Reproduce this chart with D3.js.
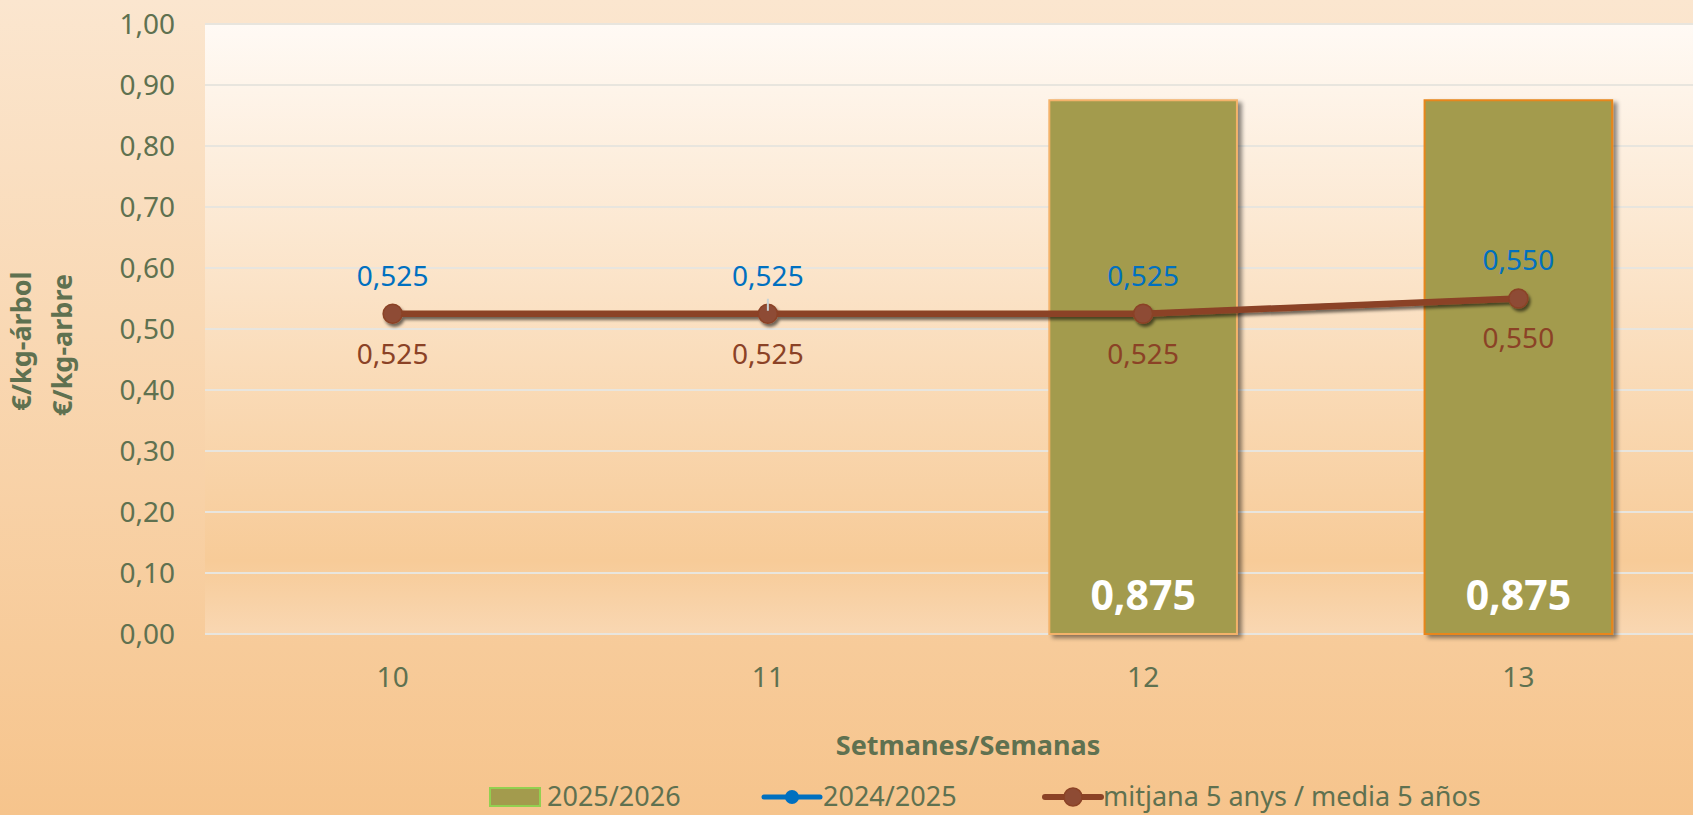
<!DOCTYPE html>
<html>
<head>
<meta charset="utf-8">
<script src="https://cdn.jsdelivr.net/npm/d3@7"></script>
<style>
  html, body { margin: 0; padding: 0; overflow: hidden; }
  text { font-family: "Noto Sans", "Open Sans", sans-serif; }
</style>
</head>
<body>
<div id="chart"></div>
<script>
// chart data
var weeks = ["10", "11", "12", "13"];
var season2526 = [null, null, 0.875, 0.875];
var season2425 = [0.525, 0.525, 0.525, 0.550];
var avg5 = [0.525, 0.525, 0.525, 0.550];
var yTicks = [0, 0.1, 0.2, 0.3, 0.4, 0.5, 0.6, 0.7, 0.8, 0.9, 1.0];
var legendNames = ["2025/2026", "2024/2025", "mitjana 5 anys / media 5 años"];
var barStrokes = ["#f4b26b", "#f4b26b", "#f4b26b", "#e8861a"];

var w = 1693, h = 815;
var plot = {left: 205, top: 24, right: 1706, bottom: 634};

var green = "#5f7150";
var barCol = "#a39b4d";
var blue = "#0070c0";
var brown = "#8b4226";

var fmt = function(v, d) { return v.toFixed(d).replace(".", ","); };

var svg = d3.select("#chart").append("svg")
  .attr("width", w)
  .attr("height", h);

var defs = svg.append("defs");

var bgGrad = defs.append("linearGradient").attr("id", "bg")
  .attr("x1", 0).attr("y1", 0).attr("x2", 0).attr("y2", 1);
bgGrad.append("stop").attr("offset", "0%").attr("stop-color", "#fbe6cf");
bgGrad.append("stop").attr("offset", "100%").attr("stop-color", "#f6c48c");

var plotGrad = defs.append("linearGradient").attr("id", "plotbg")
  .attr("x1", 0).attr("y1", 0).attr("x2", 0).attr("y2", 1);
plotGrad.append("stop").attr("offset", "0%").attr("stop-color", "#fffaf5");
plotGrad.append("stop").attr("offset", "88%").attr("stop-color", "#f7cb98");
plotGrad.append("stop").attr("offset", "100%").attr("stop-color", "#f9d7b2");

var barShadow = defs.append("filter").attr("id", "barshadow")
  .attr("x", "-10%").attr("y", "-10%").attr("width", "130%").attr("height", "130%");
barShadow.append("feDropShadow")
  .attr("dx", 4).attr("dy", 3).attr("stdDeviation", 2)
  .attr("flood-color", "#000").attr("flood-opacity", 0.45);

var lineShadow = defs.append("filter").attr("id", "lineshadow")
  .attr("x", "-5%").attr("y", "-50%").attr("width", "110%").attr("height", "200%");
lineShadow.append("feDropShadow")
  .attr("dx", 2).attr("dy", 3).attr("stdDeviation", 1.5)
  .attr("flood-color", "#000").attr("flood-opacity", 0.55);

svg.append("rect")
  .attr("width", w).attr("height", h)
  .attr("fill", "url(#bg)");

svg.append("rect")
  .attr("x", plot.left).attr("y", plot.top - 1)
  .attr("width", plot.right - plot.left)
  .attr("height", plot.bottom - plot.top + 1)
  .attr("fill", "url(#plotbg)");

var x = d3.scaleBand().domain(weeks).range([plot.left, plot.right]).padding(0);
var y = d3.scaleLinear().domain([0, 1]).range([plot.bottom, plot.top]);

// gridlines
svg.append("g").selectAll("line")
  .data(yTicks)
  .join("line")
    .attr("x1", plot.left).attr("x2", plot.right)
    .attr("y1", d => y(d)).attr("y2", d => y(d))
    .attr("stroke", "#e8e5de")
    .attr("stroke-width", 2);

// y axis
var yAxis = svg.append("g")
  .attr("transform", "translate(" + (plot.left - 30) + ",0)")
  .call(d3.axisLeft(y).tickValues(yTicks).tickSize(0).tickPadding(0)
    .tickFormat(d => fmt(d, 2)));
yAxis.select(".domain").remove();
yAxis.selectAll("text")
  .attr("fill", green)
  .style("font-size", "28px")
  .attr("dy", "0.35em");

// x axis
var xAxis = svg.append("g")
  .attr("transform", "translate(0," + plot.bottom + ")")
  .call(d3.axisBottom(x).tickSize(0).tickPadding(0));
xAxis.select(".domain").remove();
xAxis.selectAll("text")
  .attr("fill", green)
  .style("font-size", "28px")
  .attr("y", 43)
  .attr("dy", "0.35em");

// bars 2025/2026
var barW = x.bandwidth() * 0.5;
var bars = weeks.map((d, i) => ({week: d, v: season2526[i], stroke: barStrokes[i]}))
  .filter(d => d.v != null);

svg.append("g").selectAll("rect")
  .data(bars)
  .join("rect")
    .attr("x", d => x(d.week) + (x.bandwidth() - barW) / 2)
    .attr("y", d => y(d.v))
    .attr("width", barW)
    .attr("height", d => y(0) - y(d.v))
    .attr("fill", barCol)
    .attr("stroke", d => d.stroke)
    .attr("stroke-width", 2)
    .attr("filter", "url(#barshadow)");

svg.append("g").selectAll("text")
  .data(bars)
  .join("text")
    .attr("x", d => x(d.week) + x.bandwidth() / 2)
    .attr("y", y(0) - 24)
    .attr("text-anchor", "middle")
    .attr("fill", "#fff")
    .style("font-size", "41px")
    .style("font-weight", "bold")
    .text(d => fmt(d.v, 3));

var cx = d => x(d) + x.bandwidth() / 2;

// 2024/2025 line (sits under the average line)
var line2425 = d3.line().x((d, i) => cx(weeks[i])).y(d => y(d));
svg.append("path")
  .datum(season2425)
  .attr("d", line2425)
  .attr("fill", "none")
  .attr("stroke", blue)
  .attr("stroke-width", 5);
svg.append("g").selectAll("circle")
  .data(season2425)
  .join("circle")
    .attr("cx", (d, i) => cx(weeks[i]))
    .attr("cy", d => y(d))
    .attr("r", 7)
    .attr("fill", blue);

// 5 year average line
var lineAvg = d3.line().x((d, i) => cx(weeks[i])).y(d => y(d));
var avgG = svg.append("g").attr("filter", "url(#lineshadow)");
avgG.append("path")
  .datum(avg5)
  .attr("d", lineAvg)
  .attr("fill", "none")
  .attr("stroke", brown)
  .attr("stroke-width", 6.5);
avgG.selectAll("circle")
  .data(avg5)
  .join("circle")
    .attr("cx", (d, i) => cx(weeks[i]))
    .attr("cy", d => y(d))
    .attr("r", 9.5)
    .attr("fill", "#8e4b34")
    .attr("stroke", brown)
    .attr("stroke-width", 1.5);

// small mark left on week 11
svg.append("line")
  .attr("x1", cx("11")).attr("x2", cx("11"))
  .attr("y1", y(season2425[1]) - 15).attr("y2", y(season2425[1]) - 3)
  .attr("stroke", "#c9d3d6").attr("stroke-width", 2);

// data labels
svg.append("g").selectAll("text")
  .data(season2425)
  .join("text")
    .attr("x", (d, i) => cx(weeks[i]))
    .attr("y", d => y(d) - 38)
    .attr("dy", "0.35em")
    .attr("text-anchor", "middle")
    .attr("fill", blue)
    .style("font-size", "28px")
    .text(d => fmt(d, 3));

svg.append("g").selectAll("text")
  .data(avg5)
  .join("text")
    .attr("x", (d, i) => cx(weeks[i]))
    .attr("y", d => y(d) + 40)
    .attr("dy", "0.35em")
    .attr("text-anchor", "middle")
    .attr("fill", brown)
    .style("font-size", "28px")
    .text(d => fmt(d, 3));

// axis titles
var yTitle = svg.append("g")
  .attr("fill", green)
  .style("font-size", "27px")
  .style("font-weight", "bold");
yTitle.append("text")
  .attr("transform", "translate(31,341) rotate(-90)")
  .attr("text-anchor", "middle")
  .text("€/kg-árbol");
yTitle.append("text")
  .attr("transform", "translate(72,345) rotate(-90)")
  .attr("text-anchor", "middle")
  .text("€/kg-arbre");

svg.append("text")
  .attr("x", 968).attr("y", 746)
  .attr("dy", "0.35em")
  .attr("text-anchor", "middle")
  .attr("fill", green)
  .style("font-size", "27px")
  .style("font-weight", "bold")
  .text("Setmanes/Semanas");

// legend
var legend = svg.append("g").attr("transform", "translate(0,797)");
var lg0 = legend.append("g").attr("transform", "translate(489,0)");
lg0.append("rect")
  .attr("x", 1).attr("y", -9).attr("width", 50).attr("height", 18)
  .attr("fill", barCol).attr("stroke", "#92d050").attr("stroke-width", 2);
lg0.append("text").attr("x", 58).attr("dy", "0.33em").text(legendNames[0]);

var lg1 = legend.append("g").attr("transform", "translate(764,0)");
lg1.append("line").attr("x1", 0).attr("x2", 56)
  .attr("stroke", blue).attr("stroke-width", 5).attr("stroke-linecap", "round");
lg1.append("circle").attr("cx", 28).attr("r", 7).attr("fill", blue);
lg1.append("text").attr("x", 59).attr("dy", "0.33em").text(legendNames[1]);

var lg2 = legend.append("g").attr("transform", "translate(1045,0)");
lg2.append("line").attr("x1", 0).attr("x2", 56)
  .attr("stroke", brown).attr("stroke-width", 6).attr("stroke-linecap", "round");
lg2.append("circle").attr("cx", 28).attr("r", 9)
  .attr("fill", "#8e4b34").attr("stroke", brown).attr("stroke-width", 1.5);
lg2.append("text").attr("x", 58).attr("dy", "0.33em").text(legendNames[2]);

legend.selectAll("text")
  .attr("fill", green)
  .style("font-size", "27px");
</script>
</body>
</html>
